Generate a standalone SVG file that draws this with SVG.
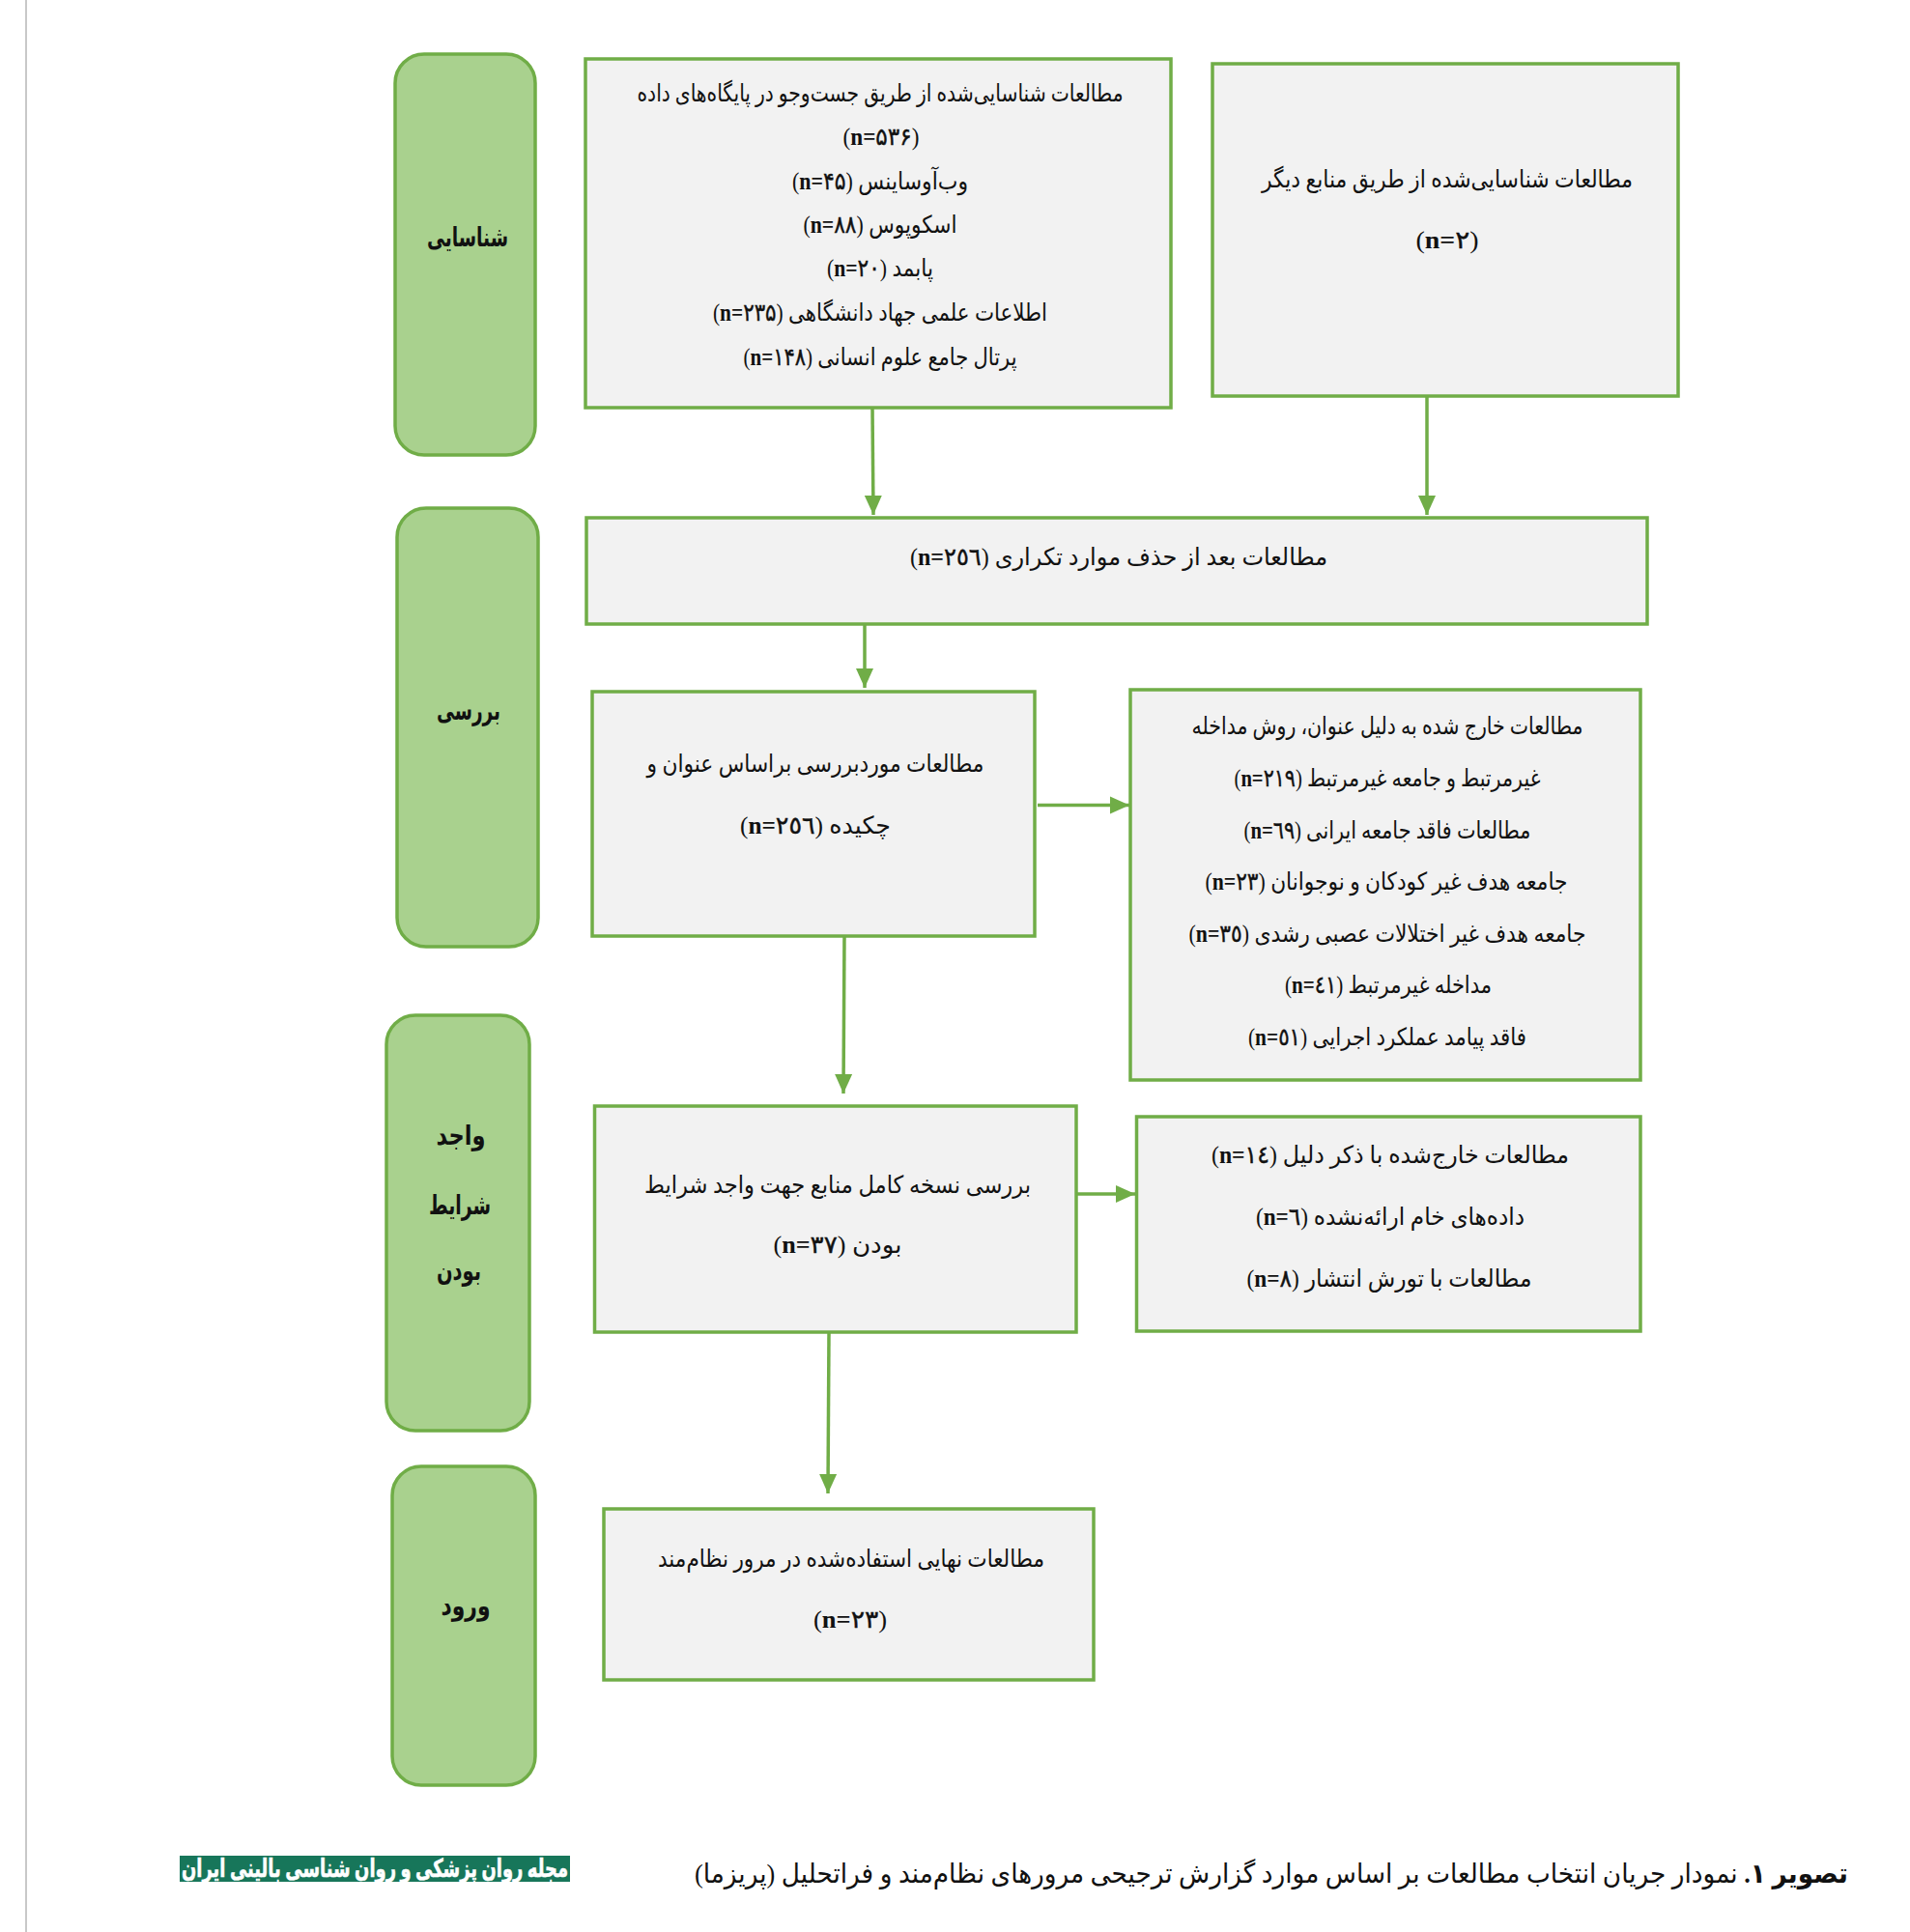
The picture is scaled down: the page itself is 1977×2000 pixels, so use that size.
<svg xmlns="http://www.w3.org/2000/svg" width="1977" height="2000" viewBox="0 0 1977 2000">
<style>
text{font-family:"Liberation Serif","DejaVu Sans",serif;font-size:25px;fill:#111;direction:rtl;text-anchor:middle}
.n{font-weight:bold;direction:ltr;unicode-bidi:embed}
.n tspan{font-weight:normal;stroke:#111;stroke-width:.4}
.b{font-weight:bold}
.s{font-size:28px;font-weight:bold}
.box{fill:#f2f2f2;stroke:#70ad47;stroke-width:3.5}
.pill{fill:#a9d18e;stroke:#70ad47;stroke-width:3.5}
.c{fill:none;stroke:#70ad47;stroke-width:3.5;marker-end:url(#arr)}
</style>
<defs><marker id="arr" markerUnits="userSpaceOnUse" markerWidth="20" markerHeight="20" refX="20" refY="10" orient="auto"><path d="M0 1L20 10L0 19Z" fill="#70ad47"/></marker></defs>
<rect width="1977" height="2000" fill="#fff"/>
<rect x="26" y="0" width="2" height="2000" fill="#c8c8c8"/>
<g id="connectors">
<path class="c" d="M903 422L904 533"/>
<path class="c" d="M1477 410V533"/>
<path class="c" d="M895 646V712"/>
<path class="c" d="M874 969L873 1132"/>
<path class="c" d="M1074 833.500H1169"/>
<path class="c" d="M1114 1236H1175"/>
<path class="c" d="M858 1379L857 1546"/>
</g>
<g id="s1"><rect class="pill" x="409" y="56" width="145" height="415" rx="30"/><text class="s" x="484" y="255" textLength="84" lengthAdjust="spacingAndGlyphs">شناسایی</text></g>
<g id="s2"><rect class="pill" x="411" y="526" width="146" height="454" rx="30"/><text class="s" x="485" y="745" textLength="66" lengthAdjust="spacingAndGlyphs">بررسی</text></g>
<g id="s3"><rect class="pill" x="400" y="1051" width="148" height="430" rx="30"/><text class="s" x="477" y="1185" textLength="51" lengthAdjust="spacingAndGlyphs">واجد</text><text class="s" x="476" y="1257" textLength="64" lengthAdjust="spacingAndGlyphs">شرایط</text><text class="s" x="475" y="1325" textLength="46" lengthAdjust="spacingAndGlyphs">بودن</text></g>
<g id="s4"><rect class="pill" x="406" y="1518" width="148" height="330" rx="30"/><text class="s" x="482" y="1672" textLength="51" lengthAdjust="spacingAndGlyphs">ورود</text></g>
<g id="a"><rect class="box" x="606" y="61" width="606" height="361"/>
<text x="911" y="105" textLength="503" lengthAdjust="spacingAndGlyphs">مطالعات شناسایی‌شده از طریق جست‌وجو در پایگاه‌های داده</text>
<text x="912" y="150" textLength="79" lengthAdjust="spacingAndGlyphs">(<tspan class="n">n=<tspan>۵۳۶</tspan></tspan>)</text>
<text x="911" y="196" textLength="182" lengthAdjust="spacingAndGlyphs">وب‌آوساینس (<tspan class="n">n=<tspan>۴۵</tspan></tspan>)</text>
<text x="911" y="241" textLength="159" lengthAdjust="spacingAndGlyphs">اسکوپوس (<tspan class="n">n=<tspan>۸۸</tspan></tspan>)</text>
<text x="911" y="286" textLength="110" lengthAdjust="spacingAndGlyphs">پابمد (<tspan class="n">n=<tspan>۲۰</tspan></tspan>)</text>
<text x="911" y="332" textLength="346" lengthAdjust="spacingAndGlyphs">اطلاعات علمی جهاد دانشگاهی (<tspan class="n">n=<tspan>۲۳۵</tspan></tspan>)</text>
<text x="911" y="378" textLength="283" lengthAdjust="spacingAndGlyphs">پرتال جامع علوم انسانی (<tspan class="n">n=<tspan>۱۴۸</tspan></tspan>)</text></g>
<g id="b"><rect class="box" x="1255" y="66" width="482" height="344"/>
<text x="1498" y="194" textLength="384" lengthAdjust="spacingAndGlyphs">مطالعات شناسایی‌شده از طریق منابع دیگر</text>
<text x="1498" y="257" textLength="65" lengthAdjust="spacingAndGlyphs">(<tspan class="n">n=<tspan>٢</tspan></tspan>)</text></g>
<g id="c"><rect class="box" x="607" y="536" width="1098" height="110"/>
<text x="1158" y="585" textLength="432" lengthAdjust="spacingAndGlyphs">مطالعات بعد از حذف موارد تکراری (<tspan class="n">n=<tspan>٢٥٦</tspan></tspan>)</text></g>
<g id="d"><rect class="box" x="613" y="716" width="458" height="253"/>
<text x="844" y="799" textLength="349" lengthAdjust="spacingAndGlyphs">مطالعات موردبررسی براساس عنوان و</text>
<text x="844" y="863" textLength="156" lengthAdjust="spacingAndGlyphs">چکیده (<tspan class="n">n=<tspan>٢٥٦</tspan></tspan>)</text></g>
<g id="e"><rect class="box" x="1170" y="714" width="528" height="404"/>
<text x="1436" y="760" textLength="405" lengthAdjust="spacingAndGlyphs">مطالعات خارج شده به دلیل عنوان، روش مداخله</text>
<text x="1436" y="814" textLength="317" lengthAdjust="spacingAndGlyphs">غیرمرتبط و جامعه غیرمرتبط (<tspan class="n">n=<tspan>٢١٩</tspan></tspan>)</text>
<text x="1436" y="868" textLength="297" lengthAdjust="spacingAndGlyphs">مطالعات فاقد جامعه ایرانی (<tspan class="n">n=<tspan>٦٩</tspan></tspan>)</text>
<text x="1435" y="921" textLength="375" lengthAdjust="spacingAndGlyphs">جامعه هدف غیر کودکان و نوجوانان (<tspan class="n">n=<tspan>٢٣</tspan></tspan>)</text>
<text x="1436" y="975" textLength="411" lengthAdjust="spacingAndGlyphs">جامعه هدف غیر اختلالات عصبی رشدی (<tspan class="n">n=<tspan>٣٥</tspan></tspan>)</text>
<text x="1437" y="1028" textLength="214" lengthAdjust="spacingAndGlyphs">مداخله غیرمرتبط (<tspan class="n">n=<tspan>٤١</tspan></tspan>)</text>
<text x="1436" y="1082" textLength="288" lengthAdjust="spacingAndGlyphs">فاقد پیامد عملکرد اجرایی (<tspan class="n">n=<tspan>٥١</tspan></tspan>)</text></g>
<g id="f"><rect class="box" x="615.500" y="1145" width="498.500" height="234"/>
<text x="867" y="1235" textLength="400" lengthAdjust="spacingAndGlyphs">بررسی نسخه کامل منابع جهت واجد شرایط</text>
<text x="867" y="1297" textLength="133" lengthAdjust="spacingAndGlyphs">بودن  (<tspan class="n">n=<tspan>٣٧</tspan></tspan>)</text></g>
<g id="g"><rect class="box" x="1176.500" y="1156" width="521.500" height="222"/>
<text x="1439" y="1204" textLength="370" lengthAdjust="spacingAndGlyphs">مطالعات خارج‌شده با ذکر دلیل (<tspan class="n">n=<tspan>١٤</tspan></tspan>)</text>
<text x="1439" y="1268" textLength="278" lengthAdjust="spacingAndGlyphs">داده‌های خام ارائه‌نشده (<tspan class="n">n=<tspan>٦</tspan></tspan>)</text>
<text x="1438" y="1332" textLength="295" lengthAdjust="spacingAndGlyphs">مطالعات با تورش انتشار (<tspan class="n">n=<tspan>٨</tspan></tspan>)</text></g>
<g id="h"><rect class="box" x="625" y="1562" width="507" height="177"/>
<text x="881" y="1622" textLength="400" lengthAdjust="spacingAndGlyphs">مطالعات نهایی استفاده‌شده در مرور نظام‌مند</text>
<text x="880" y="1685" textLength="76" lengthAdjust="spacingAndGlyphs">(<tspan class="n">n=<tspan>٢٣</tspan></tspan>)</text></g>
<g id="caption"><text x="1316" y="1949" style="font-size:28px" textLength="1194" lengthAdjust="spacingAndGlyphs"><tspan class="b">تصویر ۱.</tspan> نمودار جریان انتخاب مطالعات بر اساس موارد گزارش ترجیحی مرورهای نظام‌مند و فراتحلیل (پریزما)</text></g>
<g id="logo"><rect x="186" y="1921" width="404" height="27" fill="#17765a"/><text class="b" x="388" y="1943" style="font-size:26px;fill:#fff;stroke:#fff;stroke-width:.6" textLength="400" lengthAdjust="spacingAndGlyphs">مجله روان پزشکی و روان شناسی بالینی ایران</text></g>
</svg>
